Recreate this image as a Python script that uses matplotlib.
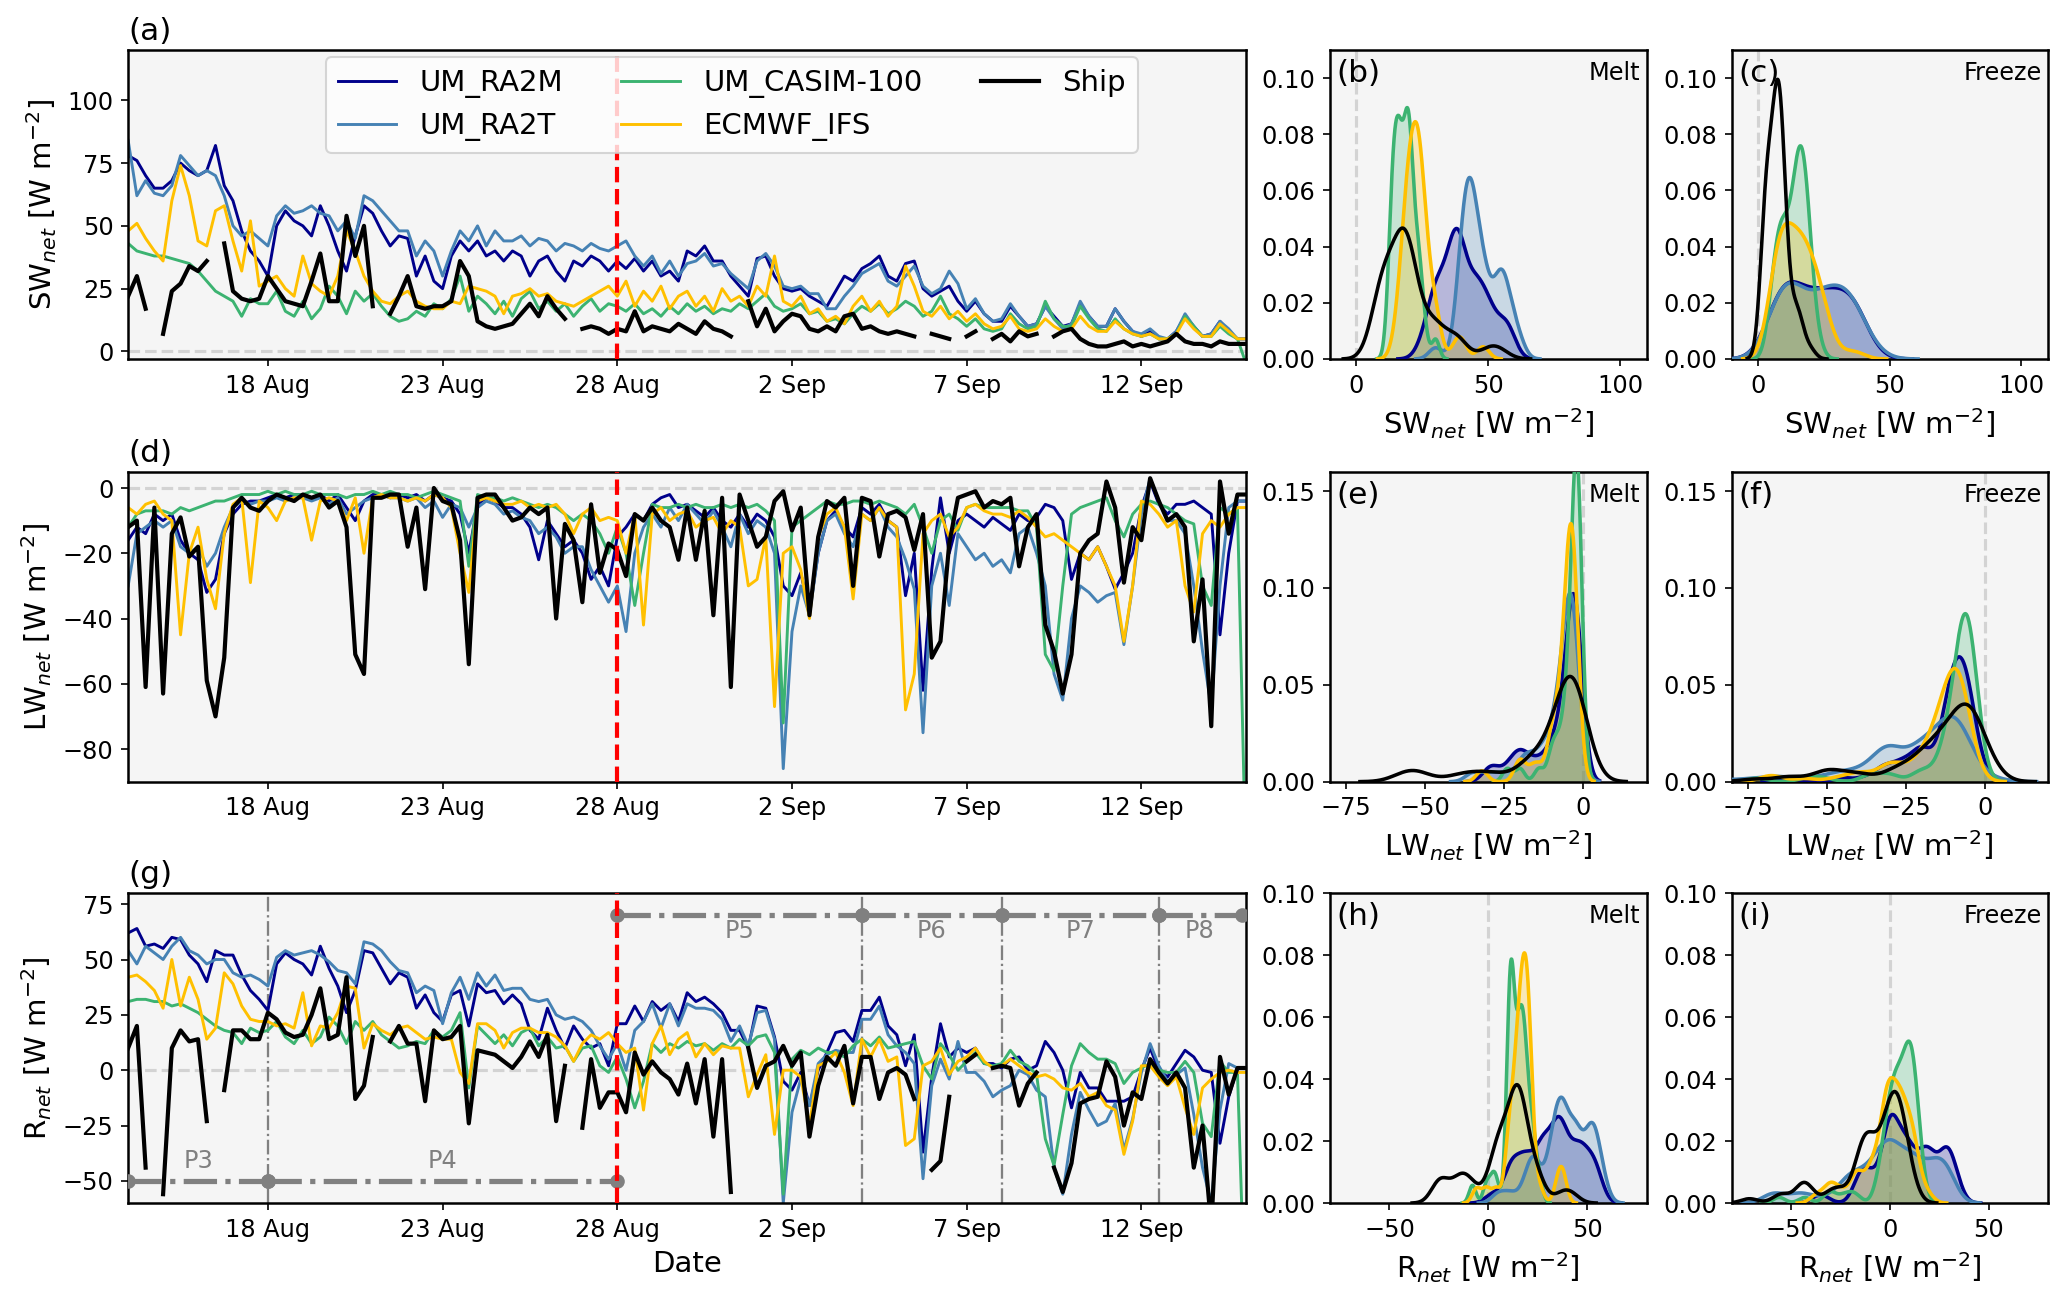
import numpy as np
import matplotlib
matplotlib.use("Agg")
import matplotlib.pyplot as plt

nan = np.nan

# ---------------- data (6-hourly, 14 Aug 00 UTC .. 15 Sep 00 UTC) ----------------
times = np.arange(np.datetime64("2018-08-14T00"), np.datetime64("2018-09-15T01"),
                  np.timedelta64(6, "h"))

series_names = ["UM_RA2M", "UM_RA2T", "UM_CASIM-100", "ECMWF_IFS", "Ship"]

sw_ra2m = [78, 76, 70, 65, 65, 68, 75, 72, 70, 72, 82, 66, 60, 48, 40, 36,
           30, 50, 56, 52, 50, 46, 58, 50, 40, 32, 46, 58, 55, 48, 42, 46,
           45, 30, 38, 28, 25, 38, 44, 40, 44, 38, 40, 36, 40, 38, 30, 36,
           38, 32, 28, 36, 34, 38, 36, 32, 36, 33, 37, 32, 36, 30, 32, 28,
           40, 38, 42, 36, 36, 30, 26, 22, 37, 38, 30, 25, 24, 25, 22, 20,
           18, 24, 30, 28, 33, 35, 38, 30, 28, 35, 36, 25, 22, 24, 26, 20,
           16, 20, 15, 12, 12, 18, 14, 10, 11, 18, 14, 10, 11, 19, 14, 10,
           10, 17, 12, 8, 6, 8, 5, 5, 8, 14, 10, 6, 7, 12, 8, 5, 5]
sw_ra2t = [84, 62, 68, 63, 62, 66, 78, 74, 70, 72, 70, 62, 50, 46, 48, 45,
           42, 54, 58, 55, 56, 58, 55, 54, 48, 52, 45, 62, 60, 56, 52, 48,
           48, 38, 44, 40, 30, 40, 48, 44, 50, 42, 48, 44, 44, 46, 42, 45,
           44, 40, 43, 42, 40, 43, 41, 40, 42, 44, 38, 34, 38, 31, 36, 30,
           35, 36, 39, 34, 35, 31, 28, 25, 36, 39, 34, 26, 25, 26, 23, 23,
           17, 17, 22, 26, 31, 33, 35, 28, 26, 30, 34, 26, 23, 25, 32, 27,
           17, 21, 15, 12, 13, 19, 14, 10, 11, 18, 13, 9, 11, 20, 14, 10,
           10, 17, 12, 8, 7, 9, 6, 5, 8, 15, 10, 6, 7, 12, 9, 5, 5]
sw_casim = [43, 40, 39, 38, 38, 37, 36, 35, 32, 28, 24, 22, 20, 14, 21, 19,
            19, 24, 16, 14, 20, 13, 17, 26, 22, 15, 24, 20, 23, 18, 14, 12,
            13, 16, 14, 19, 17, 21, 30, 16, 22, 19, 15, 20, 14, 21, 24, 17,
            20, 16, 19, 14, 18, 21, 16, 19, 18, 16, 19, 15, 17, 14, 18, 15,
            19, 16, 18, 15, 17, 16, 19, 17, 20, 23, 18, 16, 17, 19, 15, 16,
            12, 13, 11, 15, 18, 16, 19, 15, 17, 20, 18, 14, 16, 22, 15, 13,
            10, 13, 9, 8, 9, 15, 11, 9, 10, 20, 13, 10, 10, 18, 13, 9,
            8, 13, 9, 7, 6, 7, 5, 5, 7, 14, 10, 6, 6, 10, 7, 5, -5]
sw_ifs = [48, 51, 45, 40, 36, 60, 74, 62, 44, 42, 56, 58, 44, 32, 52, 26,
          28, 30, 25, 22, 38, 27, 24, 22, 30, 48, 40, 30, 24, 20, 19, 22,
          24, 20, 18, 17, 17, 20, 19, 26, 25, 24, 22, 15, 22, 23, 25, 22,
          23, 20, 19, 18, 20, 22, 24, 26, 22, 28, 18, 24, 20, 26, 17, 22,
          24, 18, 22, 16, 25, 20, 22, 18, 26, 22, 38, 20, 18, 22, 15, 17,
          12, 14, 11, 18, 22, 16, 20, 14, 18, 34, 26, 16, 14, 18, 13, 16,
          12, 15, 11, 9, 10, 14, 9, 8, 9, 13, 10, 8, 9, 14, 10, 8,
          8, 12, 9, 7, 6, 7, 5, 5, 7, 13, 9, 6, 6, 11, 8, 5, 5]
sw_ship = [22, 30, 17, nan, 7, 24, 27, 34, 32, 36, nan, 43, 24, 21, 20, 21,
           30, 25, 20, 19, 18, 28, 39, 20, 20, 54, 38, 50, 18, nan, 15, 22,
           30, 18, 17, 18, 18, 20, 36, 30, 12, 10, 9, 10, 11, 15, 19, 14,
           22, 17, 13, nan, 9, 10, 9, 7, 9, 8, 16, 8, 10, 9, 8, 11,
           9, 7, 12, 9, 8, 6, nan, 20, 10, 17, 8, 12, 15, 14, 9, 8,
           10, 8, 14, 15, 9, 10, 8, 7, 8, 7, 6, nan, 7, 6, 5, nan,
           6, 8, nan, 5, 7, 4, 8, 6, 7, nan, 6, 8, 9, 5, 3, 2,
           2, 3, 4, 2, 3, 2, 3, 4, 7, 4, 3, 3, 2, 4, 3, 3, 3]

lw_ra2m = [-16, -12, -14, -8, -10, -8, -16, -20, -22, -32, -28, -14, -8, -5, -4, -4,
           -3, -2, -3, -2, -2, -3, -2, -4, -2, -6, -10, -4, -2, -2, -3, -2,
           -3, -2, -4, -2, -3, -4, -8, -20, -5, -3, -4, -6, -6, -8, -12, -22,
           -10, -14, -18, -16, -20, -28, -24, -30, -15, -12, -8, -10, -5, -3, -2, -6,
           -5, -7, -9, -6, -10, -12, -8, -12, -8, -10, -15, -30, -33, -26, -38, -20,
           -10, -7, -12, -15, -6, -8, -5, -10, -12, -33, -20, -62, -25, -3, -20, -10,
           -8, -10, -12, -9, -11, -13, -8, -10, -9, -5, -6, -10, -28, -20, -22, -18,
           -24, -31, -26, -20, -6, 2, -5, -8, -5, -5, -4, -6, -8, -45, -20, -4, -4]
lw_ra2t = [-30, -14, -12, -10, -12, -10, -18, -20, -18, -24, -20, -12, -6, -4, -5, -4,
           -4, -3, -4, -3, -3, -4, -3, -5, -3, -8, -6, -4, -3, -2, -3, -3,
           -4, -3, -6, -4, -9, -5, -6, -12, -6, -4, -5, -8, -7, -9, -10, -14,
           -12, -15, -20, -18, -18, -25, -30, -35, -30, -44, -20, -12, -8, -12, -6, -10,
           -5, -8, -11, -7, -12, -18, -8, -14, -10, -12, -20, -86, -44, -30, -39, -20,
           -10, -8, -14, -18, -8, -10, -6, -12, -15, -22, -31, -75, -30, -20, -36, -14,
           -18, -22, -20, -24, -22, -26, -14, -12, -20, -30, -57, -65, -40, -30, -32, -35,
           -33, -32, -48, -30, -8, 3, -4, -10, -10, -14, -30, -50, -67, -30, -6, -4, -4]
lw_casim = [-12, -8, -7, -7, -7, -8, -6, -7, -6, -5, -4, -4, -3, -2, -2, -2,
            -1, -2, -1, -2, -2, -1, -2, -2, -2, -3, -2, -2, -1, -2, -1, -2,
            -2, -3, -2, -1, -2, -3, -4, -24, -2, -3, -3, -4, -3, -4, -5, -6,
            -5, -6, -8, -10, -8, -10, -14, -20, -12, -20, -36, -20, -5, -6, -6, -5,
            -6, -5, -6, -6, -5, -6, -5, -6, -5, -7, -10, -72, -12, -10, -8, -6,
            -4, -5, -5, -4, -4, -5, -4, -5, -6, -8, -5, -12, -20, -10, -8, -13,
            -6, -5, -6, -6, -6, -6, -7, -7, -12, -51, -56, -30, -8, -6, -5, -4,
            -3, -10, -15, -8, -5, -4, -5, -6, -8, -10, -11, -30, -36, -6, -8, -6, -120]
lw_ifs = [-6, -8, -5, -4, -8, -10, -45, -20, -12, -28, -37, -14, -5, -3, -29, -4,
          -6, -10, -4, -3, -3, -16, -4, -3, -4, -10, -3, -20, -3, -2, -3, -3,
          -4, -3, -4, -2, -3, -6, -20, -32, -4, -3, -4, -5, -5, -4, -6, -5,
          -6, -5, -8, -14, -8, -6, -10, -9, -10, -20, -8, -42, -8, -6, -10, -8,
          -7, -12, -10, -9, -14, -10, -12, -30, -28, -15, -67, -20, -18, -25, -40, -15,
          -8, -6, -12, -34, -8, -10, -6, -10, -12, -68, -57, -14, -10, -8, -15, -12,
          -6, -5, -7, -8, -8, -9, -7, -9, -12, -15, -14, -16, -18, -20, -22, -18,
          -24, -30, -47, -30, -4, -5, -8, -12, -10, -30, -38, -14, -10, -12, -8, -6, -6]
lw_ship = [-12, -10, -61, -6, -63, -14, -9, -21, -18, -59, -70, -52, -6, -3, -6, -7,
           -4, -2, -3, -4, -2, -3, -2, -6, -4, -12, -51, -57, -3, -3, -2, -2,
           -18, -6, -31, 0, -4, -5, -16, -54, -3, -2, -2, -6, -10, -9, -6, -8,
           -6, -40, -11, -16, -35, -5, -26, -17, -19, -27, -8, -10, -6, -10, -12, -22,
           -6, -22, -7, -39, -3, -61, -2, -10, -18, -15, -4, -1, -13, -6, -39, -15,
           -4, -6, -3, -30, -3, -4, -21, -8, -7, -9, -19, -8, -52, -47, -17, -3,
           -2, -1, -6, -4, -5, -3, -24, -12, -8, -42, -50, -63, -51, -20, -16, -14,
           2, -6, -29, -12, -16, 3, -4, -10, -8, -12, -47, -28, -73, 2, -14, -2, -2]

# periods
period_starts = ["2018-08-14T00", "2018-08-18T00", "2018-08-28T00", "2018-09-04T00",
                 "2018-09-08T00", "2018-09-12T12"]
period_ends = ["2018-08-18T00", "2018-08-28T00", "2018-09-04T00", "2018-09-08T00",
               "2018-09-12T12", "2018-09-14T21"]
period_labels = ["P3", "P4", "P5", "P6", "P7", "P8"]
period_levels = [-50, -50, 70, 70, 70, 70]
period_boundaries = ["2018-08-18T00", "2018-09-04T00", "2018-09-08T00", "2018-09-12T12"]
melt_freeze_split = "2018-08-28T00"
melt_start = "2018-08-18T00"
freeze_end = "2018-09-15T00"

date_ticks = ["2018-08-18", "2018-08-23", "2018-08-28", "2018-09-02", "2018-09-07", "2018-09-12"]
date_tick_labels = ["18 Aug", "23 Aug", "28 Aug", "2 Sep", "7 Sep", "12 Sep"]

# ---------------- assemble ----------------
SW = dict(zip(series_names, [sw_ra2m, sw_ra2t, sw_casim, sw_ifs, sw_ship]))
LW = dict(zip(series_names, [lw_ra2m, lw_ra2t, lw_casim, lw_ifs, lw_ship]))
for d in (SW, LW):
    for k in d:
        d[k] = np.array(d[k], dtype=float)
        assert d[k].size == times.size, (k, d[k].size)
RN = {k: SW[k] + LW[k] for k in series_names}

colors = {"UM_RA2M": "#00008b", "UM_RA2T": "steelblue", "UM_CASIM-100": "mediumseagreen",
          "ECMWF_IFS": "#ffc000", "Ship": "black"}

plt.rcParams["font.family"] = ["DejaVu Sans"]
plt.rcParams["xtick.labelsize"] = 11.5
plt.rcParams["ytick.labelsize"] = 11.5
plt.rcParams["axes.linewidth"] = 1.2

fig = plt.figure(figsize=(2067 / 150, 1303 / 150), dpi=150)

col_x = [(0.0620, 0.5409), (0.6435, 0.1531), (0.8378, 0.1529)]
row_y = [(0.7245, 0.2371), (0.4001, 0.2379), (0.0767, 0.2379)]

BG = "#f5f5f5"
t_melt0 = np.datetime64(melt_start)
t_split = np.datetime64(melt_freeze_split)
t_end = np.datetime64(freeze_end)
melt_mask = (times >= t_melt0) & (times < t_split)
freeze_mask = (times >= t_split) & (times < t_end)

ts_specs = [
    (SW, r"SW$_{net}$ [W m$^{-2}$]", (-3, 120), [0, 25, 50, 75, 100], "(a)"),
    (LW, r"LW$_{net}$ [W m$^{-2}$]", (-90, 5), [-80, -60, -40, -20, 0], "(d)"),
    (RN, r"R$_{net}$ [W m$^{-2}$]", (-60, 80), [-50, -25, 0, 25, 50, 75], "(g)"),
]

for r, (data, ylab, ylim, yticks, letter) in enumerate(ts_specs):
    ax = fig.add_axes([col_x[0][0], row_y[r][0], col_x[0][1], row_y[r][1]])
    ax.set_facecolor(BG)
    ax.axhline(0, color="lightgray", ls="--", lw=1.5, zorder=1)
    handles = []
    for name in series_names:
        lw = 2.0 if name == "Ship" else 1.4
        h, = ax.plot(times, data[name], color=colors[name], lw=lw, label=name, zorder=2)
        handles.append(h)
    if r == 2:
        for b in period_boundaries:
            ax.axvline(np.datetime64(b), color="gray", ls="-.", lw=1.1, zorder=1.5)
        for s, e, lab, lev in zip(period_starts, period_ends, period_labels, period_levels):
            ts, te = np.datetime64(s), np.datetime64(e)
            ax.plot([ts, te], [lev, lev], ls="-.", color="gray", lw=2.5, marker="o",
                    ms=6, zorder=3)
            mid = ts + (te - ts) / 2
            ty = lev + 9 if lev < 0 else lev - 7
            ax.text(mid, ty, lab, color="gray", fontsize=11.5, ha="center", va="center")
        ax.set_xlabel("Date", fontsize=14)
    ax.axvline(t_split, color="red", ls="--", lw=2, zorder=4)
    ax.set_xlim(np.datetime64("2018-08-14T00"), np.datetime64("2018-09-15T00"))
    ax.set_ylim(*ylim)
    ax.set_yticks(yticks)
    ax.set_xticks([np.datetime64(t) for t in date_ticks])
    ax.set_xticklabels(date_tick_labels)
    ax.set_ylabel(ylab, fontsize=14)
    ax.text(0.0, 1.012, letter, transform=ax.transAxes, fontsize=15, ha="left", va="bottom")
    if r == 0:
        ax.legend(handles=handles, ncol=3, fontsize=14, loc="upper left",
                  bbox_to_anchor=(0.177, 0.977), borderaxespad=0)


def kde(values, bw_adjust=0.7, cut=3, n_grid=500):
    v = np.asarray(values, dtype=float)
    v = v[~np.isnan(v)]
    n = v.size
    bw = bw_adjust * v.std(ddof=1) * n ** (-0.2)
    x = np.linspace(v.min() - cut * bw, v.max() + cut * bw, n_grid)
    y = np.exp(-0.5 * ((x[:, None] - v[None, :]) / bw) ** 2).sum(axis=1) / (n * bw * np.sqrt(2 * np.pi))
    return x, y


kde_specs = [
    (SW, r"SW$_{net}$ [W m$^{-2}$]", (-10, 110), [0, 50, 100], (0, 0.11),
     [0, 0.02, 0.04, 0.06, 0.08, 0.10], ["(b)", "(c)"], (0.75, 1.2)),
    (LW, r"LW$_{net}$ [W m$^{-2}$]", (-80, 20), [-75, -50, -25, 0], (0, 0.16),
     [0, 0.05, 0.10, 0.15], ["(e)", "(f)"], (0.62, 0.6)),
    (RN, r"R$_{net}$ [W m$^{-2}$]", (-80, 80), [-50, 0, 50], (0, 0.10),
     [0, 0.02, 0.04, 0.06, 0.08, 0.10], ["(h)", "(i)"], (0.55, 0.55)),
]

for r, (data, xlab, xlim, xticks, ylim, yticks, letters, bws) in enumerate(kde_specs):
    for c, (mask, season) in enumerate([(melt_mask, "Melt"), (freeze_mask, "Freeze")]):
        ax = fig.add_axes([col_x[c + 1][0], row_y[r][0], col_x[c + 1][1], row_y[r][1]])
        ax.set_facecolor(BG)
        ax.axvline(0, color="lightgray", ls="--", lw=1.5, zorder=1)
        for name in series_names:
            x, y = kde(data[name][mask], bw_adjust=bws[c])
            if name != "Ship":
                ax.fill_between(x, 0, y, color=colors[name], alpha=0.25, lw=0, zorder=2)
            ax.plot(x, y, color=colors[name], lw=1.7, zorder=3)
        ax.set_xlim(*xlim)
        ax.set_ylim(*ylim)
        ax.set_xticks(xticks)
        ax.set_yticks(yticks)
        ax.set_xlabel(xlab, fontsize=14)
        ax.text(0.02, 0.97, letters[c], transform=ax.transAxes, fontsize=15,
                ha="left", va="top")
        ax.text(0.98, 0.965, season, transform=ax.transAxes, fontsize=11.5,
                ha="right", va="top")

fig.savefig("out.png", dpi=150)
